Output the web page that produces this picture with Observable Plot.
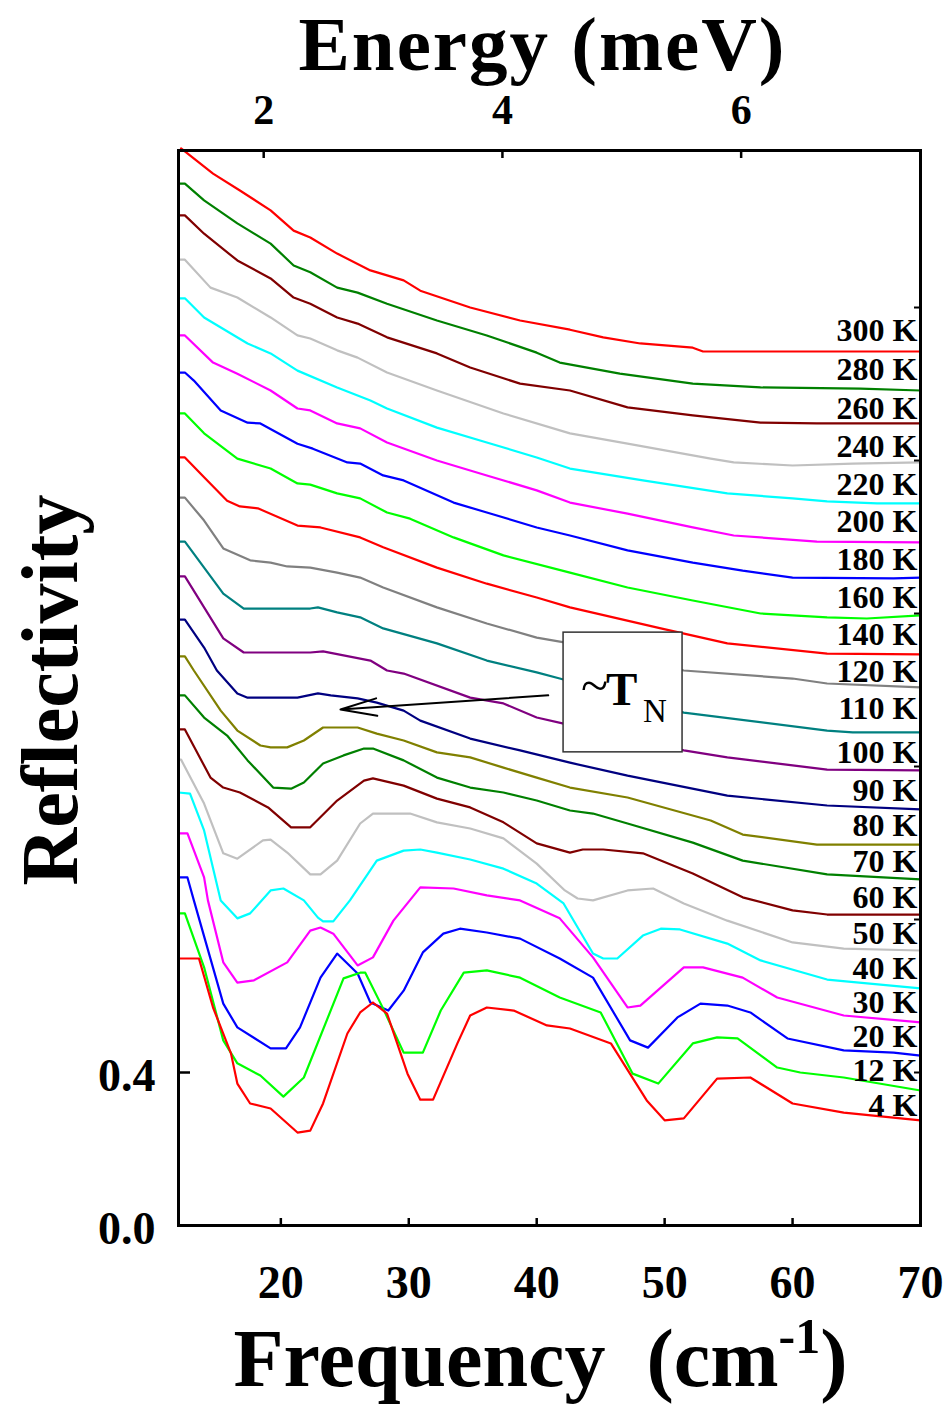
<!DOCTYPE html>
<html><head><meta charset="utf-8">
<script src="https://cdn.jsdelivr.net/npm/d3@7"></script>
<script src="https://cdn.jsdelivr.net/npm/@observablehq/plot@0.6"></script>
<style>html,body{margin:0;padding:0;background:#fff;} svg{display:block}</style>
</head><body><div id="chart"></div>
<script>
// ---- data (frequency in cm^-1, reflectivity incl. vertical offsets as drawn) ----
const temps  = [300,280,260,240,220,200,180,160,140,120,110,100,90,80,70,60,50,40,30,20,12,4];
const colors = ["#ff0000","#008000","#800000","#c0c0c0","#00ffff","#ff00ff","#0000ff","#00ff00","#ff0000","#808080","#008080","#800080","#000080","#808000","#008000","#800000","#c0c0c0","#00ffff","#ff00ff","#0000ff","#00ff00","#ff0000"];
// vertical position of each temperature label at the right edge
const labelR = [2.340,2.238,2.136,2.037,1.937,1.841,1.741,1.642,1.545,1.448,1.352,1.237,1.137,1.046,0.952,0.858,0.763,0.672,0.583,0.494,0.405,0.314];

const s300 = [[12.2,2.816],[14.7,2.750],[16.8,2.706],[19.2,2.654],[21.0,2.601],[22.3,2.583],[24.4,2.541],[27.0,2.497],[29.6,2.471],[30.9,2.444],[34.8,2.400],[38.7,2.366],[42.6,2.342],[45.2,2.322],[48.1,2.306],[52.2,2.295],[53.0,2.285],[70,2.285]];
const s280 = [[12.0,2.724],[12.5,2.724],[14.0,2.680],[16.6,2.620],[19.2,2.567],[21.0,2.510],[22.3,2.492],[24.4,2.452],[26.0,2.439],[28.3,2.410],[32.2,2.366],[36.1,2.327],[40.0,2.282],[41.8,2.256],[46.5,2.227],[52.2,2.201],[57.5,2.191],[65.3,2.188],[70,2.183]];
const s260 = [[12.0,2.641],[12.5,2.641],[14.0,2.593],[16.6,2.523],[19.2,2.476],[21.0,2.426],[22.3,2.410],[24.4,2.374],[26.0,2.358],[28.3,2.322],[32.2,2.280],[34.8,2.243],[38.7,2.201],[42.6,2.183],[47.1,2.139],[52.2,2.118],[57.5,2.099],[61.9,2.097],[70,2.097]];
const s240 = [[12.0,2.525],[12.5,2.525],[14.5,2.452],[16.6,2.426],[19.2,2.374],[21.3,2.327],[22.3,2.319],[24.4,2.288],[26.0,2.269],[28.3,2.230],[32.2,2.183],[37.4,2.123],[42.6,2.071],[47.1,2.044],[53.6,2.005],[55.4,1.995],[60.0,1.987],[64.7,1.992],[70,1.995]];
const s220 = [[12.0,2.424],[12.5,2.424],[14.0,2.374],[17.4,2.306],[19.2,2.280],[21.3,2.235],[24.4,2.191],[27.0,2.157],[28.3,2.136],[32.2,2.086],[36.1,2.047],[40.0,2.008],[42.6,1.979],[48.3,1.948],[54.9,1.914],[60.0,1.901],[62.7,1.893],[66.6,1.888],[70,1.888]];
const s200 = [[12.0,2.327],[12.5,2.327],[14.7,2.256],[16.6,2.227],[19.2,2.183],[21.3,2.136],[22.3,2.131],[24.4,2.097],[26.2,2.084],[28.3,2.047],[32.2,2.000],[36.1,1.961],[40.0,1.922],[42.6,1.890],[47.1,1.861],[52.2,1.825],[55.4,1.804],[61.9,1.788],[70,1.786]];
const s180 = [[12.0,2.230],[12.5,2.230],[13.2,2.209],[15.3,2.131],[17.4,2.099],[18.4,2.097],[21.3,2.044],[22.5,2.031],[25.2,1.995],[26.2,1.992],[28.0,1.961],[29.6,1.948],[33.5,1.890],[36.1,1.864],[40.0,1.825],[42.6,1.804],[47.1,1.765],[52.2,1.733],[56.1,1.712],[60.0,1.694],[67.9,1.692],[70,1.694]];
const s160 = [[12.0,2.123],[12.5,2.123],[14.0,2.071],[16.6,2.005],[19.2,1.979],[21.3,1.940],[22.3,1.937],[24.4,1.914],[26.2,1.901],[28.3,1.864],[30.1,1.848],[33.5,1.799],[37.4,1.752],[42.6,1.707],[47.1,1.668],[52.2,1.634],[57.5,1.600],[62.7,1.590],[65.8,1.587],[70,1.595]];
const s140 = [[12.0,2.008],[12.5,2.008],[14.0,1.956],[15.8,1.895],[16.8,1.880],[18.2,1.875],[21.3,1.830],[23.1,1.825],[26.2,1.799],[28.0,1.773],[32.2,1.720],[36.1,1.678],[40.0,1.642],[42.6,1.616],[49.7,1.561],[54.9,1.522],[62.7,1.495],[70,1.493]];
const s120 = [[12.0,1.903],[12.5,1.903],[14.0,1.843],[15.5,1.770],[17.6,1.739],[19.2,1.733],[20.5,1.723],[22.3,1.720],[24.4,1.707],[26.2,1.694],[28.0,1.668],[32.2,1.616],[36.1,1.574],[40.0,1.537],[42.6,1.522],[51.5,1.451],[60.0,1.430],[62.7,1.417],[70,1.407]];
const s110 = [[12.0,1.788],[12.5,1.788],[14.0,1.720],[15.5,1.652],[17.1,1.613],[19.2,1.613],[22.3,1.613],[22.9,1.616],[24.4,1.603],[26.2,1.590],[28.0,1.561],[32.2,1.522],[36.1,1.477],[40.0,1.446],[41.8,1.430],[51.5,1.341],[62.7,1.294],[64.7,1.289],[70,1.289]];
const s100 = [[12.0,1.697],[12.5,1.697],[14.0,1.616],[15.5,1.535],[17.1,1.498],[22.3,1.498],[23.3,1.501],[27.0,1.477],[28.3,1.451],[29.6,1.443],[34.8,1.380],[37.4,1.365],[40.0,1.328],[42.1,1.312],[51.5,1.242],[54.9,1.224],[62.7,1.192],[70,1.190]];
const s90  = [[12.0,1.584],[12.5,1.584],[14.0,1.511],[15.0,1.451],[16.6,1.391],[17.4,1.380],[21.3,1.380],[22.9,1.391],[23.9,1.386],[26.0,1.378],[27.5,1.367],[29.6,1.346],[30.9,1.320],[34.8,1.273],[38.7,1.242],[42.6,1.210],[47.1,1.176],[54.9,1.124],[62.7,1.098],[70,1.088]];
const s80  = [[12.0,1.488],[12.5,1.488],[13.2,1.451],[15.3,1.346],[16.6,1.294],[18.4,1.255],[19.2,1.250],[20.5,1.250],[21.8,1.268],[23.3,1.302],[26.0,1.302],[27.5,1.286],[29.6,1.268],[32.2,1.237],[34.8,1.224],[37.4,1.197],[40.0,1.171],[42.6,1.145],[47.1,1.119],[53.6,1.059],[56.1,1.022],[61.9,0.996],[70,0.996]];
const s70  = [[12.0,1.386],[12.5,1.386],[14.0,1.328],[15.8,1.281],[17.4,1.216],[19.4,1.145],[20.8,1.142],[21.8,1.158],[23.3,1.208],[24.9,1.229],[26.5,1.247],[27.2,1.247],[29.6,1.216],[32.2,1.171],[34.8,1.145],[37.4,1.132],[40.0,1.111],[42.6,1.085],[44.4,1.077],[47.1,1.051],[52.2,1.001],[56.1,0.954],[62.7,0.918],[70,0.905]];
const s60  = [[12.0,1.297],[12.5,1.297],[14.5,1.171],[15.5,1.145],[16.8,1.132],[19.0,1.093],[20.8,1.041],[22.3,1.041],[24.4,1.111],[26.5,1.163],[27.2,1.169],[29.6,1.150],[32.2,1.116],[34.8,1.093],[37.4,1.054],[40.0,0.999],[42.6,0.975],[43.6,0.983],[45.2,0.983],[48.3,0.973],[52.2,0.920],[56.1,0.858],[60.0,0.824],[62.7,0.813],[70,0.813]];
const s50  = [[12.0,1.218],[12.2,1.218],[14.0,1.103],[15.5,0.973],[16.6,0.959],[18.6,1.007],[19.2,1.009],[20.5,0.975],[22.3,0.918],[23.1,0.918],[24.4,0.954],[26.2,1.051],[27.2,1.077],[30.1,1.077],[32.2,1.054],[34.8,1.038],[37.4,1.012],[40.0,0.946],[42.2,0.876],[43.2,0.855],[44.4,0.850],[47.1,0.876],[49.1,0.881],[51.5,0.842],[54.9,0.797],[60.0,0.740],[64.0,0.724],[70,0.719]];
const s40  = [[12.0,1.132],[12.9,1.129],[14.0,1.033],[15.3,0.850],[16.6,0.803],[17.6,0.816],[19.2,0.876],[20.2,0.881],[21.8,0.850],[22.9,0.805],[23.3,0.795],[24.1,0.795],[25.4,0.850],[27.5,0.954],[29.6,0.980],[30.9,0.983],[32.2,0.975],[34.8,0.957],[37.4,0.933],[40.0,0.894],[42.1,0.842],[44.4,0.711],[45.2,0.698],[46.3,0.698],[48.3,0.758],[49.7,0.776],[51.2,0.774],[54.9,0.737],[57.5,0.693],[62.7,0.643],[70,0.620]];
const s30  = [[12.0,1.025],[12.7,1.025],[14.0,0.910],[14.3,0.850],[15.5,0.688],[16.6,0.635],[17.9,0.641],[20.5,0.688],[22.3,0.771],[23.1,0.779],[24.1,0.763],[26.0,0.680],[27.2,0.701],[28.8,0.797],[30.9,0.884],[33.5,0.881],[36.1,0.863],[38.7,0.850],[41.8,0.803],[44.4,0.701],[47.1,0.570],[48.1,0.575],[51.5,0.675],[53.0,0.675],[56.1,0.648],[58.8,0.596],[64.0,0.549],[70,0.531]];
const s20  = [[12.0,0.910],[12.7,0.910],[13.2,0.850],[15.5,0.580],[16.6,0.518],[19.2,0.463],[20.4,0.463],[21.5,0.518],[23.1,0.648],[24.4,0.711],[26.0,0.659],[27.0,0.583],[28.4,0.562],[29.6,0.614],[31.1,0.714],[32.7,0.763],[34.0,0.776],[36.1,0.766],[38.7,0.750],[41.8,0.698],[44.4,0.648],[47.3,0.484],[48.7,0.465],[51.0,0.544],[52.8,0.580],[54.9,0.575],[56.7,0.557],[59.6,0.489],[64.0,0.458],[67.9,0.452],[70,0.444]];
const s12  = [[12.0,0.816],[12.5,0.816],[14.0,0.675],[15.5,0.484],[16.6,0.424],[18.4,0.392],[20.2,0.337],[21.8,0.387],[24.9,0.646],[26.2,0.661],[26.6,0.661],[28.0,0.567],[29.6,0.452],[31.1,0.452],[32.5,0.562],[34.3,0.661],[36.1,0.667],[38.7,0.648],[41.8,0.596],[45.0,0.557],[47.5,0.397],[49.5,0.371],[52.2,0.476],[54.1,0.492],[55.7,0.489],[58.8,0.413],[60.6,0.400],[64.0,0.387],[70,0.353]];
const s4   = [[12.0,0.698],[13.6,0.698],[14.7,0.570],[16.1,0.450],[16.6,0.371],[17.6,0.319],[19.2,0.306],[21.3,0.243],[22.3,0.248],[23.3,0.319],[25.2,0.502],[26.2,0.557],[27.2,0.583],[28.3,0.554],[29.9,0.397],[30.9,0.329],[31.9,0.329],[33.8,0.476],[34.8,0.549],[36.1,0.570],[38.2,0.562],[40.8,0.523],[42.6,0.515],[45.8,0.476],[48.6,0.327],[50.0,0.275],[51.5,0.280],[54.1,0.384],[56.7,0.387],[60.0,0.319],[64.0,0.295],[70,0.275]];
const curves = [s300,s280,s260,s240,s220,s200,s180,s160,s140,s120,s110,s100,s90,s80,s70,s60,s50,s40,s30,s20,s12,s4];

// axes / annotation values
const xDomain = [12, 70];
const yTop = 2.8105;
const freqTicks = [20, 30, 40, 50, 60, 70];
const energyTicks = [2, 4, 6];
const cmPerMeV = 9.33;            // top-axis placement as drawn in the reference
const reflLabels = [0.0, 0.4];
const rightTicks = [0.4, 0.8, 1.2, 1.6, 2.0, 2.4];
const tnBox = [{x1: 42.1, x2: 51.4, y1: 1.237, y2: 1.550}];
const tnArrow = [{x1: 40.9, y1: 1.386, x2: 24.66, y2: 1.349}];

// ---- layout ----
const W = 951, H = 1405, mL = 178, mR = 31, mT = 150, mB = 180;
const pxY = (H - mT - mB) / yTop, pxX = (W - mL - mR) / (xDomain[1] - xDomain[0]);
const serif = "'Liberation Serif','Times New Roman',serif";
const B = {fontFamily: serif, fontWeight: "bold", fill: "black"};

const series = temps.map((T, i) => ({T, color: colors[i], pts: curves[i], ly: labelR[i]}));
const marks = [];
series.forEach(s => marks.push(Plot.line(s.pts, {x: d => d[0], y: d => d[1], stroke: s.color, strokeWidth: 2.2})));

marks.push(Plot.text(series, {...B, x: () => xDomain[1], y: s => s.ly, text: s => `${s.T} K`,
  textAnchor: "end", lineAnchor: "middle", dx: -3, fontSize: 32}));

// annotation box + arrow
marks.push(Plot.rect(tnBox, {x1: "x1", x2: "x2", y1: "y1", y2: "y2", fill: "white", stroke: "#333", strokeWidth: 1.5}));
const cx = d => (d.x1 + d.x2) / 2, cy = d => (d.y1 + d.y2) / 2;
marks.push(Plot.text(tnBox, {x: cx, y: cy, text: () => "~", fontFamily: serif, fontSize: 50, textAnchor: "end", lineAnchor: "bottom", dx: -15, dy: 10, fill: "black"}));
marks.push(Plot.text(tnBox, {...B, x: cx, y: cy, text: () => "T", fontSize: 47, textAnchor: "start", lineAnchor: "bottom", dx: -17, dy: 13}));
marks.push(Plot.text(tnBox, {x: cx, y: cy, text: () => "N", fontFamily: serif, fontSize: 33, textAnchor: "start", lineAnchor: "bottom", dx: 20, dy: 30, fill: "black"}));
marks.push(Plot.arrow(tnArrow, {x1: "x1", y1: "y1", x2: "x2", y2: "y2", stroke: "black", strokeWidth: 2, headAngle: 27, headLength: 28}));

// frame + ticks
marks.push(Plot.frame({stroke: "black", strokeWidth: 3}));
marks.push(Plot.ruleX(freqTicks.slice(0, -1), {x: d => d, y1: () => 0, y2: () => 7 / pxY, stroke: "black", strokeWidth: 2.5}));
marks.push(Plot.ruleX(energyTicks, {x: d => d * cmPerMeV, y1: () => yTop, y2: () => yTop - 8 / pxY, stroke: "black", strokeWidth: 2.5}));
marks.push(Plot.ruleY([0.4], {y: d => d, x1: () => xDomain[0], x2: () => xDomain[0] + 12 / pxX, stroke: "black", strokeWidth: 2.5}));
marks.push(Plot.ruleY(rightTicks, {y: d => d, x1: () => xDomain[1], x2: () => xDomain[1] - 6 / pxX, stroke: "black", strokeWidth: 2}));

// tick labels
marks.push(Plot.text(freqTicks, {...B, x: d => d, y: () => 0, text: d => String(d), fontSize: 46, lineAnchor: "bottom", dy: 72}));
marks.push(Plot.text(energyTicks, {...B, x: d => d * cmPerMeV, y: () => yTop, text: d => String(d), fontSize: 42, lineAnchor: "bottom", dy: -27}));
marks.push(Plot.text(reflLabels, {...B, x: () => xDomain[0], y: d => d, text: d => d.toFixed(1), fontSize: 46, textAnchor: "end", lineAnchor: "bottom", dx: -23, dy: 18}));

// axis titles
marks.push(Plot.text(["Energy (meV)"], {...B, frameAnchor: "top", text: d => d, fontSize: 77, textAnchor: "middle", lineAnchor: "bottom", dx: -7, dy: -81}));
marks.push(Plot.text(["Frequency  (cm-1)"], {...B, frameAnchor: "bottom", text: d => d, fontSize: 82, textAnchor: "middle", lineAnchor: "bottom", dx: -9, dy: 160}));
marks.push(Plot.text(["Reflectivity"], {...B, frameAnchor: "left", text: d => d, fontSize: 80, rotate: -90, textAnchor: "middle", lineAnchor: "bottom", dx: -102, dy: 2}));

const chart = Plot.plot({
  width: W, height: H,
  marginLeft: mL, marginRight: mR, marginTop: mT, marginBottom: mB,
  x: {domain: xDomain, axis: null},
  y: {domain: [0, yTop], axis: null},
  style: {fontFamily: serif, background: "white", overflow: "visible"},
  marks
});

// widen the top title slightly; superscript for the frequency unit
d3.select(chart).selectAll("text").filter(function () { return this.textContent === "Energy (meV)"; })
  .attr("letter-spacing", 2);
d3.select(chart).selectAll("text").filter(function () { return this.textContent === "Frequency  (cm-1)"; })
  .each(function () {
    const t = d3.select(this);
    t.text(null).style("white-space", "pre");
    t.append("tspan").text("Frequency  (cm");
    t.append("tspan").attr("dy", -33).attr("font-size", 50).text("-1");
    t.append("tspan").attr("dy", 33).text(")");
  });

document.getElementById("chart").appendChild(chart);
</script>
</body></html>
